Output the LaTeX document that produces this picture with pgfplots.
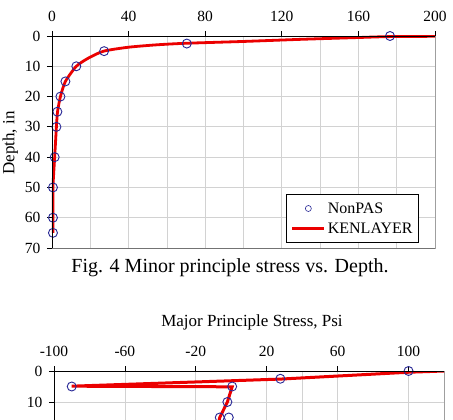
\documentclass[border=0pt]{standalone}
\usepackage{pgfplots}
\pgfplotsset{compat=1.18}
\usepackage{fontspec}
\setmainfont{Liberation Serif}
\definecolor{mk}{RGB}{40,40,150}
\definecolor{ln}{RGB}{235,0,0}
\definecolor{gr}{RGB}{210,210,210}
\pgfplotsset{
  common/.style={
    scale only axis,
    /pgf/number format/assume math mode=true,
    tick label style={font=\fontsize{15.5}{17}\selectfont},
    xticklabel style={yshift=6pt},
    yticklabel style={xshift=-3pt},
    grid=both,
    major grid style={draw=gr, line width=0.8pt},
    minor grid style={draw=gr, line width=0.8pt},
    tick align=outside,
    major tick length=5pt,
    minor tick length=0pt,
    tick style={black, line width=0.8pt},
    axis line style={draw=gray!75, line width=0.8pt},
    xtick pos=upper, xticklabel pos=upper,
    ytick pos=left, yticklabel pos=left,
    ymin=-70, ymax=0,
    clip mode=individual,
  },
  mks/.style={only marks, mark=o, mark size=4.5pt, mark options={draw=mk, fill=white, line width=0.9pt}, forget plot},
}
\begin{document}
\begin{tikzpicture}
\useasboundingbox (0pt,0pt) rectangle (453pt,-420pt);
\fill[white] (0pt,0pt) rectangle (453pt,-420pt);
\clip (0pt,0pt) rectangle (453pt,-420pt);
% ---------- top chart ----------
\begin{axis}[common,
  at={(52pt,-36pt)}, anchor=north west,
  width=383pt, height=212pt,
  xmin=0, xmax=200,
  xtick={0,40,...,200}, minor xtick={20,60,...,180},
  ytick={-70,-60,...,0},
  yticklabels={70,60,50,40,30,20,10,0},
  ylabel={Depth, in},
  ylabel style={font=\fontsize{17}{19}\selectfont, xshift=-1pt},
  legend style={at={(1,0)}, anchor=south east, xshift=-16pt, yshift=5pt,
    draw=black, line width=0.8pt, font=\fontsize{16}{18}\selectfont,
    row sep=4pt, inner xsep=4pt, inner ysep=6pt},
  legend cell align=left,
]
\addlegendimage{legend image code/.code={\draw[mk, fill=white, line width=0.6pt] (16pt,0pt) circle (3pt);}}
\addlegendentry{NonPAS}
\addlegendimage{legend image code/.code={\draw[ln, line width=3pt] (0pt,0pt) -- (32pt,0pt);}}
\addlegendentry{KENLAYER}
\addplot[ln, line width=2.8pt, smooth, tension=0.4, forget plot] coordinates {
(0.5,-65) (0.5,-60) (0.5,-50) (1.4,-40) (2.3,-30) (2.9,-25) (4.4,-20) (7,-15)
(12.7,-10) (19,-7.3) (27,-5) (40,-3.7) (55,-2.9) (70,-2.4) (100,-1.8) (130,-1.1) (160,-0.5) (176,-0.2) (200,-0.1) (215,0)};
\addplot[mks] coordinates {
(176.5,0) (70.4,-2.5) (27.2,-5) (12.7,-10) (7,-15) (4.4,-20) (2.8,-25) (2.3,-30) (1.4,-40) (0.5,-50) (0.5,-60) (0.5,-65)};
\draw[black, line width=0.8pt] (axis cs:0,0) -- (axis cs:200,0);
\draw[black, line width=0.8pt] (axis cs:0,0) -- (axis cs:0,-70);
\draw[gray!90!black, line width=0.8pt] (axis cs:0,-70) -- (axis cs:200,-70);
\end{axis}
\node[font=\fontsize{20}{22}\selectfont] at (230pt,-268pt) {Fig. 4 Minor principle stress vs. Depth.};
% ---------- bottom chart ----------
\node[font=\fontsize{17}{19}\selectfont] at (252pt,-322pt) {Major Principle Stress, Psi};
\begin{axis}[common,
  at={(54pt,-371pt)}, anchor=north west,
  width=390pt, height=217pt,
  xmin=-100, xmax=120,
  xtick={-100,-60,...,100}, minor xtick={40},
  ytick={-10,0}, yticklabels={10,0},
]
\addplot[ln, line width=3pt, forget plot] coordinates {
(130,0.2) (100,-0.4) (28,-2.6) (-90,-4.9) (0.5,-5.1) (-2.2,-10) (-6.5,-15) (-8.5,-20) (-9.5,-25)};
\addplot[mks] coordinates {
(100,0) (27.7,-2.5) (-90,-5) (0.5,-5) (-2.2,-10) (-6.5,-15) (-1.4,-15)};
\draw[black, line width=0.8pt] (axis cs:-100,0) -- (axis cs:120,0);
\draw[black, line width=0.8pt] (axis cs:-100,0) -- (axis cs:-100,-70);
\end{axis}
\end{tikzpicture}
\end{document}
